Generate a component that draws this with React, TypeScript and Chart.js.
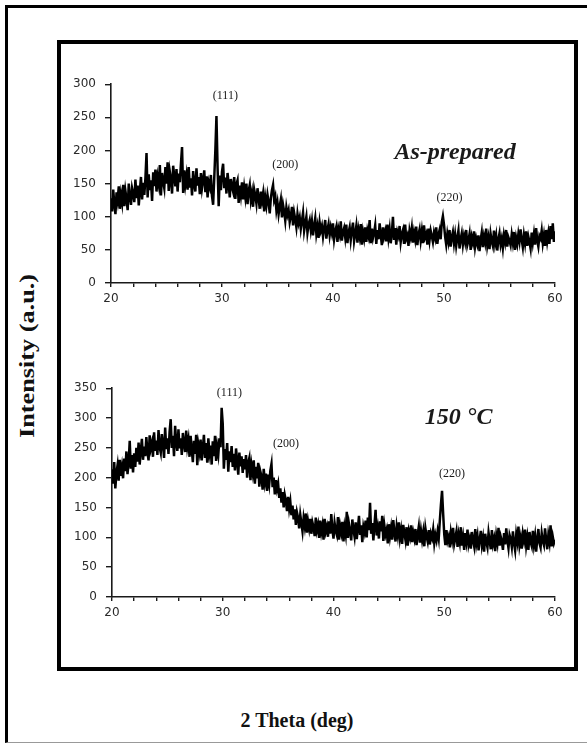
import React, { useEffect, useRef } from 'react';
import { Chart, registerables } from 'chart.js';

Chart.register(...registerables);

// Diffraction angle grid (deg) shared by both patterns
const THETA_START = 20;
const THETA_STEP = 0.1;

// Intensity (a.u.), one value per 0.1 deg from 20.0 to 60.0
const AS_PREPARED = [
  128, 108, 141, 119, 104, 137, 125, 146, 112, 133,
  121, 148, 116, 139, 127, 110, 150, 131, 118, 143,
  135, 122, 156, 128, 147, 117, 139, 160, 126, 151,
  133, 158, 196, 129, 164, 140, 155, 124, 167, 146,
  171, 138, 160, 149, 178, 132, 166, 153, 143, 175,
  150, 182, 139, 168, 157, 135, 177, 161, 146, 172,
  138, 165, 152, 180, 205, 136, 170, 149, 162, 141,
  175, 144, 158, 132, 169, 150, 138, 173, 147, 160,
  134, 166, 143, 155, 170, 137, 161, 129, 152, 145,
  163, 131, 118, 158, 200, 252, 175, 116, 162, 140,
  168, 180, 143, 159, 135, 166, 150, 129, 157, 145,
  138, 160, 127, 149, 155, 121, 147, 133, 152, 126,
  144, 130, 150, 119, 139, 148, 125, 136, 115, 141,
  132, 120, 143, 127, 112, 138, 124, 135, 108, 129,
  117, 133, 122, 105, 128, 140, 148, 125, 131, 110,
  121, 104, 116, 126, 99, 118, 108, 94, 114, 103,
  110, 92, 101, 115, 87, 106, 96, 84, 104, 91,
  99, 82, 94, 106, 79, 90, 100, 76, 88, 95,
  80, 93, 72, 87, 98, 74, 85, 68, 91, 79,
  86, 70, 83, 95, 67, 80, 89, 72, 84, 75,
  90, 66, 78, 85, 62, 81, 73, 93, 64, 77,
  83, 69, 88, 60, 76, 84, 65, 79, 91, 63,
  74, 86, 61, 80, 70, 89, 58, 77, 67, 84,
  62, 79, 71, 95, 60, 82, 68, 76, 87, 59,
  80, 66, 90, 73, 57, 84, 70, 78, 63, 88,
  68, 81, 60, 75, 100, 65, 83, 58, 77, 71,
  86, 62, 74, 80, 59, 88, 67, 72, 56, 79,
  70, 83, 61, 76, 66, 85, 57, 73, 81, 64,
  78, 60, 87, 69, 74, 58, 82, 65, 79, 71,
  62, 76, 68, 84, 59, 73, 80, 66, 92, 101,
  88, 70, 58, 74, 63, 80, 55, 69, 77, 60,
  73, 56, 68, 79, 52, 66, 75, 58, 71, 62,
  80, 57, 64, 74, 50, 69, 61, 78, 55, 67,
  59, 72, 48, 65, 76, 54, 70, 61, 82, 57,
  68, 51, 74, 63, 56, 79, 60, 71, 49, 66,
  75, 58, 67, 53, 72, 62, 80, 55, 69, 64,
  57, 73, 61, 77, 50, 68, 59, 74, 63, 81,
  65, 54, 72, 60, 78, 56, 70, 62, 52, 76,
  61, 74, 58, 83, 64, 55, 71, 67, 79, 60,
  72, 56, 80, 63, 75, 59, 86, 66, 90, 62,
  78,
];

const ANNEALED_150 = [
  214, 190, 226, 182, 208, 221, 195, 230, 203, 218,
  199, 232, 211, 244, 206, 225, 262, 215, 238, 209,
  241, 218, 250, 227, 259, 222, 246, 265, 230, 252,
  236, 268, 243, 229, 271, 249, 258, 235, 276, 245,
  262, 238, 280, 251, 242, 273, 256, 233, 284, 248,
  266, 240, 277, 298, 250, 270, 236, 287, 258, 245,
  281, 249, 266, 238, 275, 258, 243, 279, 252, 264,
  235, 270, 247, 226, 262, 240, 272, 221, 255, 243,
  264, 229, 250, 272, 233, 258, 225, 266, 241, 254,
  222, 261, 236, 270, 228, 252, 239, 266, 251, 317,
  290, 215, 248, 230, 258, 210, 244, 226, 253, 218,
  240, 212, 249, 228, 205, 242, 219, 236, 208, 231,
  214, 238, 200, 225, 233, 196, 221, 208, 229, 190,
  218, 199, 225, 185, 210, 202, 180, 215, 193, 207,
  178, 205, 190, 212, 223, 184, 200, 172, 196, 181,
  190, 166, 182, 158, 176, 150, 171, 161, 144, 168,
  148, 160, 137, 153, 130, 147, 121, 142, 133, 115,
  138, 124, 110, 132, 119, 140, 108, 127, 115, 131,
  106, 125, 117, 102, 133, 112, 121, 99, 128, 109,
  120, 96, 131, 110, 118, 101, 127, 106, 139, 113,
  98, 124, 111, 104, 134, 96, 119, 108, 126, 93,
  117, 105, 143, 99, 122, 110, 95, 130, 113, 101,
  125, 97, 115, 136, 104, 120, 92, 118, 109, 128,
  100, 133, 112, 158, 106, 124, 95, 121, 146, 103,
  116, 98, 127, 110, 136, 94, 119, 105, 113, 90,
  122, 102, 116, 96, 129, 108, 93, 118, 104, 125,
  99, 112, 89, 121, 107, 95, 117, 86, 110, 101,
  120, 92, 108, 98, 114, 87, 105, 118, 91, 111,
  96, 109, 85, 115, 102, 93, 112, 88, 106, 99,
  113, 90, 104, 95, 110, 98, 128, 155, 178, 140,
  105, 87, 112, 94, 101, 83, 108, 96, 116, 89,
  99, 110, 84, 104, 92, 117, 86, 100, 79, 107,
  93, 113, 88, 97, 81, 109, 95, 85, 114, 90,
  102, 78, 96, 111, 87, 99, 76, 106, 92, 83,
  108, 94, 80, 112, 89, 98, 77, 103, 91, 116,
  86, 101, 93, 79, 107, 88, 115, 95, 82, 104,
  97, 84, 110, 90, 78, 105, 93, 118, 87, 99,
  81, 106, 95, 113, 86, 100, 79, 109, 92, 85,
  111, 88, 102, 76, 98, 114, 90, 83, 107, 94,
  87, 115, 96, 80, 104, 92, 120, 85, 101, 90,
  96,
];

// Miller-index labels, placed in data units (2θ, intensity)
const HKL_AS_PREPARED = [
  { hkl: '(111)', theta: 30.3, at: 282 },
  { hkl: '(200)', theta: 35.7, at: 178 },
  { hkl: '(220)', theta: 50.5, at: 128 },
];
const HKL_150 = [
  { hkl: '(111)', theta: 30.6, at: 343 },
  { hkl: '(200)', theta: 35.7, at: 257 },
  { hkl: '(220)', theta: 50.7, at: 207 },
];

type Hkl = { hkl: string; theta: number; at: number };

type PatternProps = {
  values: number[];
  yMax: number;
  peaks: Hkl[];
  sample: { text: string; theta: number; at: number };
  left: number;
  top: number;
  width: number;
  height: number;
  axisWidth: number;
  axisHeight: number;
  pad: { top: number; right: number; bottom: number; left: number };
};

const INK = '#1a1a1a';
const TICK_FONT = { family: '"DejaVu Sans", sans-serif', size: 12 };

function Pattern(props: PatternProps) {
  const ref = useRef<HTMLCanvasElement | null>(null);

  useEffect(() => {
    const canvas = ref.current;
    if (!canvas) return;

    const points = props.values.map((v, i) => ({
      x: THETA_START + i * THETA_STEP,
      y: v,
    }));

    const notes = {
      id: 'hklNotes',
      afterDatasetsDraw(chart: any) {
        const { ctx } = chart;
        const xs = chart.scales.x;
        const ys = chart.scales.y;
        ctx.save();
        ctx.fillStyle = INK;
        ctx.textAlign = 'center';
        ctx.textBaseline = 'middle';
        ctx.font = '12px "Liberation Serif", serif';
        props.peaks.forEach((p) => {
          ctx.fillText(p.hkl, xs.getPixelForValue(p.theta), ys.getPixelForValue(p.at));
        });
        ctx.font = 'italic bold 24px "Liberation Serif", serif';
        ctx.fillText(
          props.sample.text,
          xs.getPixelForValue(props.sample.theta),
          ys.getPixelForValue(props.sample.at)
        );
        ctx.restore();
      },
    };

    const chart = new Chart(canvas, {
      type: 'line',
      data: {
        datasets: [
          {
            data: points,
            borderColor: '#000',
            borderWidth: 2.5,
            borderJoinStyle: 'miter',
            pointRadius: 0,
            tension: 0,
            fill: false,
          },
        ],
      },
      options: {
        responsive: false,
        animation: false,
        devicePixelRatio: 1,
        layout: { padding: props.pad, autoPadding: false },
        plugins: {
          legend: { display: false },
          tooltip: { enabled: false },
        },
        scales: {
          x: {
            type: 'linear',
            min: 20,
            max: 60,
            afterFit: (s: any) => {
              s.height = props.axisHeight;
            },
            border: { display: true, color: INK, width: 1.6 },
            grid: {
              display: true,
              drawOnChartArea: false,
              drawTicks: true,
              tickLength: 4,
              color: INK,
              lineWidth: 1.4,
            },
            ticks: {
              stepSize: 2,
              autoSkip: false,
              maxRotation: 0,
              padding: 5,
              color: '#2a2a2a',
              font: TICK_FONT,
              callback: (v: any) => (Number(v) % 10 === 0 ? String(v) : ''),
            },
          },
          y: {
            min: 0,
            max: props.yMax,
            afterFit: (s: any) => {
              s.width = props.axisWidth;
            },
            border: { display: true, color: INK, width: 1.6 },
            grid: {
              display: true,
              drawOnChartArea: false,
              drawTicks: true,
              tickLength: 6,
              color: INK,
              lineWidth: 1.4,
            },
            ticks: {
              stepSize: 50,
              padding: 9,
              color: '#2a2a2a',
              font: TICK_FONT,
            },
          },
        },
      },
      plugins: [notes],
    });

    return () => chart.destroy();
  }, []);

  return (
    <canvas
      ref={ref}
      width={props.width}
      height={props.height}
      style={{
        position: 'absolute',
        left: props.left,
        top: props.top,
        width: props.width,
        height: props.height,
      }}
    />
  );
}

export default function App() {
  return (
    <div
      style={{
        position: 'absolute',
        left: 0,
        top: 0,
        width: 587,
        height: 744,
        background: '#fff',
        overflow: 'hidden',
      }}
    >
      {/* outer frame */}
      <div
        style={{
          position: 'absolute',
          left: 5,
          top: 5,
          width: 582,
          height: 738,
          boxSizing: 'border-box',
          borderLeft: '3px solid #000',
          borderTop: '3px solid #000',
          borderBottom: '1px solid #999',
        }}
      />
      {/* inner frame around both patterns */}
      <div
        style={{
          position: 'absolute',
          left: 57,
          top: 40,
          width: 521,
          height: 631,
          boxSizing: 'border-box',
          border: '4px solid #000',
        }}
      />
      <Pattern
        values={AS_PREPARED}
        yMax={300}
        peaks={HKL_AS_PREPARED}
        sample={{ text: 'As-prepared', theta: 51.0, at: 197 }}
        left={62}
        top={68}
        width={508}
        height={250}
        axisWidth={49}
        axisHeight={28}
        pad={{ top: 13, right: 15, bottom: 7, left: 0 }}
      />
      <Pattern
        values={ANNEALED_150}
        yMax={350}
        peaks={HKL_150}
        sample={{ text: '150 °C', theta: 51.3, at: 300 }}
        left={62}
        top={372}
        width={508}
        height={260}
        axisWidth={50}
        axisHeight={28}
        pad={{ top: 15, right: 15, bottom: 7, left: 0 }}
      />
      <div
        style={{
          position: 'absolute',
          left: 27,
          top: 356,
          transform: 'translate(-50%, -50%) rotate(-90deg) scaleX(1.25)',
          whiteSpace: 'nowrap',
          font: 'bold 21px "Liberation Serif", serif',
          color: '#111',
          lineHeight: 1,
        }}
      >
        Intensity (a.u.)
      </div>
      <div
        style={{
          position: 'absolute',
          left: 297,
          top: 720,
          transform: 'translate(-50%, -50%)',
          whiteSpace: 'nowrap',
          font: 'bold 20px "Liberation Serif", serif',
          color: '#111',
          lineHeight: 1,
        }}
      >
        2 Theta (deg)
      </div>
    </div>
  );
}
